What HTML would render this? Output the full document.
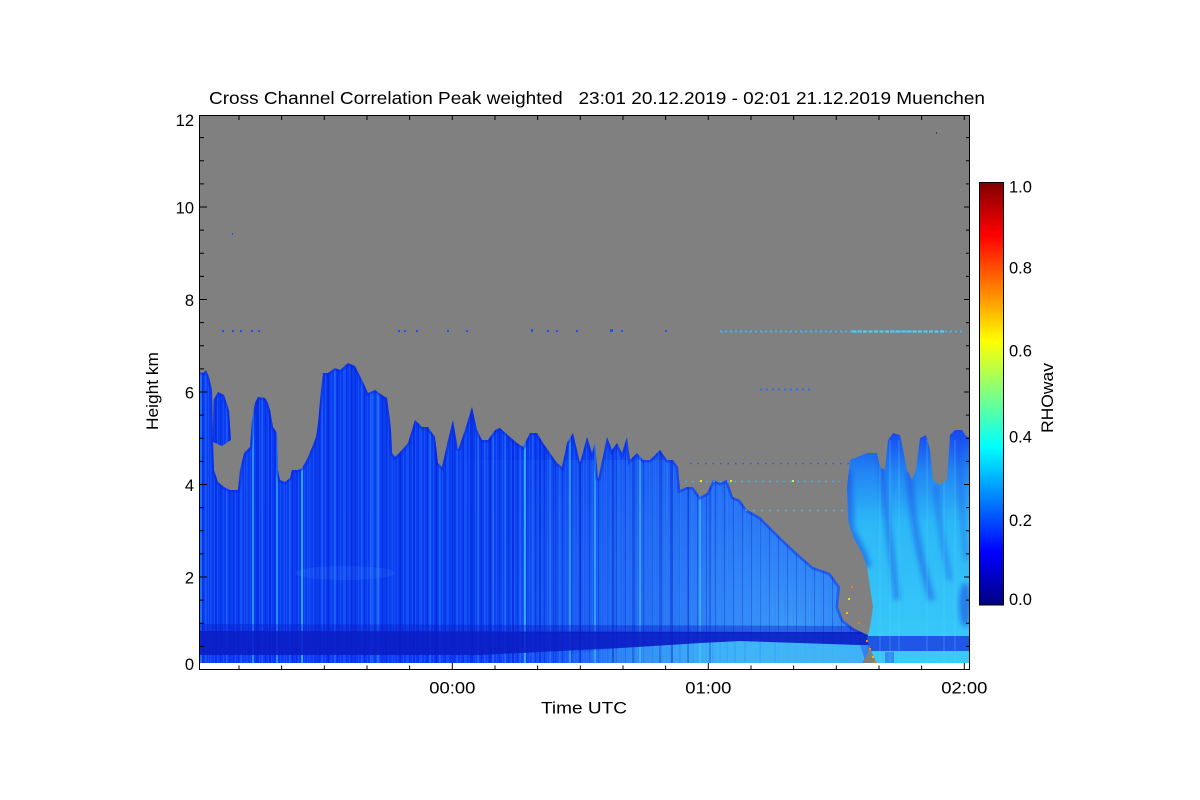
<!DOCTYPE html>
<html><head><meta charset="utf-8"><style>
html,body{margin:0;padding:0;background:#fff;}
svg{display:block;}
text{font-family:"Liberation Sans",Arial,Helvetica,sans-serif;fill:#000;}
</style></head><body>
<svg width="1200" height="800" viewBox="0 0 1200 800" xmlns="http://www.w3.org/2000/svg">
<defs>
 <clipPath id="mc">
  <path d="M199.5,663 L199.5,372 203,373 206,370 209,377 212,390 213,440 214,470 218,482 224,487 230,490 238,490 240,470 244,453 250,447 252,420 255,403 258,397 265,398 268,403 270,410 273,427 277,433 278,470 280,480 285,482 290,478 292,470 298,470 302,468 305,463 308,457 313,445 316,437 318,423 321,390 323,373 328,373 335,368 340,370 348,363 355,366 362,380 368,393 375,390 382,395 387,398 390,420 391,430 392,453 395,457 402,450 408,443 415,420 422,427 428,427 435,437 438,463 442,467 448,440 453,420 458,450 465,430 472,407 477,430 482,440 488,440 495,430 500,428 510,437 517,443 523,447 530,433 537,433 543,443 550,453 557,463 562,467 567,443 573,433 580,463 587,437 592,453 595,443 598,480 607,437 612,450 617,443 622,453 627,437 630,460 637,453 643,460 650,460 660,450 667,460 673,460 678,467 680,490 687,487 693,487 700,497 707,493 713,480 720,483 727,480 733,497 740,500 747,510 753,513 760,517 773,530 780,537 797,553 813,567 830,573 840,587 838,607 843,620 853,628 863,633 870,636 868,652 862,663 Z"/>
  <path d="M213,442 L213.5,400 218,392 224,395 229,410 231,440 222,446 Z"/>
 </clipPath>
 <clipPath id="cc">
  <path d="M877,663 L872,653 867,640 870,627 873,607 870,587 867,567 862,553 853,537 848,520 847,487 850,460 855,458 867,453 877,453 880,467 885,470 888,440 893,433 900,435 903,450 907,470 912,480 916,470 920,438 926,435 930,450 933,480 940,485 947,480 950,435 955,430 962,430 966,436 969.5,438 969.5,663 Z"/>
 </clipPath>
 <filter id="bl" x="-20%" y="-20%" width="140%" height="140%"><feGaussianBlur stdDeviation="2.5"/></filter>
 <linearGradient id="jet" x1="0" y1="1" x2="0" y2="0">
  <stop offset="0" stop-color="#000080"/>
  <stop offset="0.125" stop-color="#0000ff"/>
  <stop offset="0.375" stop-color="#00ffff"/>
  <stop offset="0.625" stop-color="#ffff00"/>
  <stop offset="0.875" stop-color="#ff0000"/>
  <stop offset="1" stop-color="#800000"/>
 </linearGradient>
 <radialGradient id="lite" cx="790" cy="635" r="300" gradientUnits="userSpaceOnUse">
  <stop offset="0" stop-color="#44a8f8" stop-opacity="0.85"/>
  <stop offset="0.5" stop-color="#3a94f6" stop-opacity="0.45"/>
  <stop offset="1" stop-color="#3a94f6" stop-opacity="0"/>
 </radialGradient>
 <linearGradient id="midl" x1="440" y1="0" x2="700" y2="0" gradientUnits="userSpaceOnUse">
  <stop offset="0" stop-color="#2a80f5" stop-opacity="0"/>
  <stop offset="1" stop-color="#2a80f5" stop-opacity="0.35"/>
 </linearGradient>
 <linearGradient id="bb" x1="560" y1="0" x2="720" y2="0" gradientUnits="userSpaceOnUse">
  <stop offset="0" stop-color="#40b4f6" stop-opacity="0"/>
  <stop offset="1" stop-color="#40b8f7" stop-opacity="0.9"/>
 </linearGradient>
 <linearGradient id="cy" x1="0" y1="430" x2="0" y2="663" gradientUnits="userSpaceOnUse">
  <stop offset="0" stop-color="#1646f0"/>
  <stop offset="0.18" stop-color="#2286f3"/>
  <stop offset="0.4" stop-color="#2cb8f7"/>
  <stop offset="1" stop-color="#3acbf8"/>
 </linearGradient>
 <pattern id="tx" width="9" height="4" patternUnits="userSpaceOnUse">
  <rect x="1" width="1" height="4" fill="#3878ff" opacity=".3"/>
  <rect x="4" width="1" height="4" fill="#0016c8" opacity=".3"/>
  <rect x="7" width="1" height="4" fill="#2c90ff" opacity=".22"/>
 </pattern>
</defs>

<rect x="199.5" y="115.5" width="770" height="547.5" fill="#808080"/>
<rect x="199.5" y="663" width="770" height="7" fill="#ffffff"/>

<g clip-path="url(#mc)">
 <rect x="199" y="300" width="680" height="363" fill="#0a3cf2"/>
 <rect x="440" y="460" width="430" height="203" fill="url(#midl)"/>
 <rect x="199" y="300" width="680" height="363" fill="url(#lite)"/>
 <ellipse cx="345" cy="573" rx="50" ry="7" fill="#3a80ff" opacity=".2"/>
 <rect x="199" y="300" width="680" height="363" fill="url(#tx)"/>
 <path d="M560,655 L620,648 700,643 740,641 860,645 866,663 560,663 Z" fill="url(#bb)"/>
 <path d="M206,300V663M211,300V663M227,300V663M241,300V663M247,300V663M262,300V663M284,300V663M290,300V663M310,300V663M322,300V663M345,300V663M362,300V663M392,300V663M408,300V663M420,300V663M447,300V663M457,300V663M465,300V663M485,300V663M520,300V663M533,300V663M560,300V663M607,300V663M618,300V663M627,300V663M653,300V663M667,300V663M693,300V663M713,300V663M720,300V663M727,300V663M735,300V663M745,300V663M760,300V663M775,300V663" stroke="#2a8cff" stroke-width="1" opacity=".5"/>
 <path d="M335,300V663M430,300V663M440,300V663M478,300V663M493,300V663M505,300V663M550,300V663M680,300V663" stroke="#2a8cff" stroke-width="1.5" opacity=".55"/>
 <path d="M201,300V663M378,300V663" stroke="#2a90ff" stroke-width="2" opacity=".6"/>
 <path d="M372,300V663" stroke="#3090ff" stroke-width="4" opacity=".35"/>
 <path d="M253,300V663M277,300V663M570,300V663M595,300V663M640,300V663M700,300V663" stroke="#40d0ff" stroke-width="1.5" opacity=".7"/>
 <path d="M302,300V663M525,300V663" stroke="#40d0ff" stroke-width="2" opacity=".7"/>
 <path d="M216,300V663M233,300V663M258,300V663M296,300V663M316,300V663M328,300V663M386,300V663M400,300V663M414,300V663M436,300V663M452,300V663M471,300V663M490,300V663M556,300V663M633,300V663M660,300V663M688,300V663M710,300V663" stroke="#0014c0" stroke-width="1" opacity=".5"/>
 <path d="M270,300V663M352,300V663M513,300V663M540,300V663M580,300V663M613,300V663M672,300V663" stroke="#0014c0" stroke-width="1.5" opacity=".5"/>
 <path d="M199.5,372 203,373 206,370 209,377 212,390 213,440 214,470 218,482 224,487 230,490 238,490 240,470 244,453 250,447 252,420 255,403 258,397 265,398 268,403 270,410 273,427 277,433 278,470 280,480 285,482 290,478 292,470 298,470 302,468 305,463 308,457 313,445 316,437 318,423 321,390 323,373 328,373 335,368 340,370 348,363 355,366 362,380 368,393 375,390 382,395 387,398 390,420 391,430 392,453 395,457 402,450 408,443 415,420 422,427 428,427 435,437 438,463 442,467 448,440 453,420 458,450 465,430 472,407 477,430 482,440 488,440 495,430 500,428 510,437 517,443 523,447 530,433 537,433 543,443 550,453 557,463 562,467 567,443 573,433 580,463 587,437 592,453 595,443 598,480 607,437 612,450 617,443 622,453 627,437 630,460 637,453 643,460 650,460 660,450 667,460 673,460 678,467 680,490 687,487 693,487 700,497 707,493 713,480 720,483 727,480 733,497 740,500 747,510 753,513 760,517 773,530 780,537 797,553 813,567 830,573 840,587 838,607 843,620 853,628 863,633 M213,442 L213.5,400 218,392 224,395 229,410 231,440" fill="none" stroke="#0a20dc" stroke-width="5" opacity=".4"/>
 <path d="M199.5,624 L870,626 870,634 199.5,632 Z" fill="#0a1cc8" opacity=".4"/>
 <path d="M199.5,631 L870,632 L870,645 860,645 740,641 700,643 620,648 480,655 199.5,655 Z" fill="#0a1cc4" opacity=".88"/>
</g>

<g clip-path="url(#cc)">
 <rect x="840" y="420" width="131" height="245" fill="url(#cy)"/>
 <g filter="url(#bl)">
  <path d="M847,470 L850,530 862,553 867,567" fill="none" stroke="#1034e0" stroke-width="9" opacity=".45"/>
  <path d="M881,455 C884,500 890,540 897,600" fill="none" stroke="#1538e2" stroke-width="6" opacity=".4"/>
  <path d="M909,470 C912,520 920,560 932,600" fill="none" stroke="#1538e2" stroke-width="7" opacity=".4"/>
  <path d="M936,485 C938,520 944,550 950,580" fill="none" stroke="#1538e2" stroke-width="5" opacity=".35"/>
  <path d="M958,440 C960,480 962,520 966,560" fill="none" stroke="#1538e2" stroke-width="5" opacity=".3"/>
  <ellipse cx="965" cy="605" rx="6" ry="22" fill="#1838e0" opacity=".5"/>
 </g>
 <rect x="866" y="636" width="104" height="15" fill="#1a3ae0" opacity=".8"/>
 <rect x="885" y="652" width="9" height="11" fill="#1a3ae0" opacity=".4"/>
 <path d="M880,440V663M890,440V663M899,440V663M927,440V663M944,440V663M955,440V663" stroke="#50d8ff" stroke-width="1" opacity=".35"/>
</g>

<path d="M720,331.5H962" stroke="#38b8ff" stroke-width="2" stroke-dasharray="2 3"/>
<path d="M852,331.5H945" stroke="#40d8ff" stroke-width="2" stroke-dasharray="4 1.5"/>
<g fill="#1a50ff">
 <rect x="222" y="330" width="2" height="2"/><rect x="232" y="330" width="2" height="2"/><rect x="240" y="330" width="2" height="2"/><rect x="251" y="330" width="2" height="2"/><rect x="258" y="330" width="2" height="2"/>
 <rect x="398" y="330" width="2" height="2"/><rect x="404" y="330" width="2" height="2"/><rect x="416" y="330" width="2" height="2"/><rect x="447" y="330" width="2" height="2"/><rect x="466" y="330" width="2" height="2"/><rect x="531" y="329" width="2" height="3"/><rect x="547" y="330" width="2" height="2"/><rect x="556" y="330" width="2" height="2"/><rect x="576" y="330" width="2" height="2"/><rect x="610" y="329" width="3" height="3"/><rect x="621" y="330" width="2" height="2"/><rect x="665" y="330" width="2" height="2"/>
 <rect x="232" y="233" width="1" height="2"/><rect x="936" y="132" width="1" height="2" fill="#404060"/>
</g>
<path d="M760,389.5H810" stroke="#2a70ff" stroke-width="2" stroke-dasharray="2 4"/>
<path d="M690,463.5H850" stroke="#1a40f0" stroke-width="1.5" stroke-dasharray="1.5 6" opacity=".7"/>
<path d="M685,481.5H840" stroke="#30c0ff" stroke-width="1.5" stroke-dasharray="2 5" opacity=".8"/>
<path d="M745,510.5H848" stroke="#30c8ff" stroke-width="1.5" stroke-dasharray="2 6" opacity=".8"/>
<g>
 <rect x="700" y="480" width="2" height="2" fill="#e0f020"/><rect x="730" y="480" width="2" height="2" fill="#e0f020"/><rect x="792" y="480" width="2" height="2" fill="#c0ff40"/>
 <rect x="866" y="640" width="2" height="2" fill="#ff8a00"/><rect x="869" y="648" width="2" height="2" fill="#ff9000"/><rect x="872" y="656" width="2" height="2" fill="#ffb000"/><rect x="874" y="661" width="2" height="2" fill="#ff8000"/>
 <rect x="848" y="598" width="2" height="2" fill="#f0e000"/><rect x="851" y="586" width="2" height="2" fill="#ff8000"/><rect x="846" y="612" width="2" height="2" fill="#ffc000"/><rect x="858" y="622" width="2" height="2" fill="#ff7000"/>
</g>

<rect x="199.5" y="115.5" width="770" height="554" fill="none" stroke="#000" stroke-width="1"/>
<path d="M200,646.4h4M200,623.3h4M200,600.1h4M200,577h7M200,553.9h4M200,530.8h4M200,507.6h4M200,484.5h7M200,461.4h4M200,438.3h4M200,415.1h4M200,392h7M200,368.9h4M200,345.8h4M200,322.6h4M200,299.5h7M200,276.4h4M200,253.3h4M200,230.1h4M200,207h7M200,183.9h4M200,160.8h4M200,137.6h4" stroke="#000" stroke-width="1"/>
<path d="M969,646.4h-3M969,623.3h-3M969,600.1h-3M969,577h-5M969,553.9h-3M969,530.8h-3M969,507.6h-3M969,484.5h-5M969,461.4h-3M969,438.3h-3M969,415.1h-3M969,392h-5M969,368.9h-3M969,345.8h-3M969,322.6h-3M969,299.5h-5M969,276.4h-3M969,253.3h-3M969,230.1h-3M969,207h-5M969,183.9h-3M969,160.8h-3M969,137.6h-3" stroke="#000" stroke-width="1"/>
<path d="M239,669v-3.5M281.6,669v-3.5M324.3,669v-3.5M367,669v-3.5M409.6,669v-3.5M452.3,669v-6M495,669v-3.5M537.6,669v-3.5M580.3,669v-3.5M623,669v-3.5M665.6,669v-3.5M708.3,669v-6M751,669v-3.5M793.6,669v-3.5M836.3,669v-3.5M879,669v-3.5M921.6,669v-3.5M964.3,669v-6" stroke="#000" stroke-width="1"/>
<path d="M239,116v4M281.6,116v4M324.3,116v4M367,116v4M409.6,116v4M452.3,116v4M495,116v4M537.6,116v4M580.3,116v4M623,116v4M665.6,116v4M708.3,116v4M751,116v4M793.6,116v4M836.3,116v4M879,116v4M921.6,116v4M964.3,116v4" stroke="#000" stroke-width="1"/>

<text x="209" y="104" font-size="17.5" textLength="776" lengthAdjust="spacingAndGlyphs" style="white-space:pre">Cross Channel Correlation Peak weighted   23:01 20.12.2019 - 02:01 21.12.2019 Muenchen</text>

<g font-size="16.5" text-anchor="end">
 <text x="194" y="126">12</text>
 <text x="194" y="213.7">10</text>
 <text x="194" y="306">8</text>
 <text x="194" y="398.7">6</text>
 <text x="194" y="491.2">4</text>
 <text x="194" y="583.7">2</text>
 <text x="194" y="670">0</text>
</g>
<g font-size="16.5" text-anchor="middle">
 <text x="452.3" y="693.3" textLength="46" lengthAdjust="spacingAndGlyphs">00:00</text>
 <text x="708.3" y="693.3" textLength="46" lengthAdjust="spacingAndGlyphs">01:00</text>
 <text x="964.3" y="693.3" textLength="46" lengthAdjust="spacingAndGlyphs">02:00</text>
</g>
<text x="584" y="713.5" font-size="17" text-anchor="middle" textLength="86" lengthAdjust="spacingAndGlyphs">Time UTC</text>
<text transform="translate(158,391) rotate(-90)" font-size="17" text-anchor="middle" textLength="78" lengthAdjust="spacingAndGlyphs">Height km</text>

<rect x="979.5" y="182.5" width="24" height="422.5" fill="url(#jet)" stroke="#000" stroke-width="1"/>
<g font-size="16.5">
 <text x="1009" y="192.3">1.0</text>
 <text x="1009" y="273.3">0.8</text>
 <text x="1009" y="356.7">0.6</text>
 <text x="1009" y="442.7">0.4</text>
 <text x="1009" y="526">0.2</text>
 <text x="1009" y="605">0.0</text>
</g>
<text transform="translate(1053,398) rotate(-90)" font-size="17" text-anchor="middle" textLength="70" lengthAdjust="spacingAndGlyphs">RHOwav</text>
</svg>
</body></html>
